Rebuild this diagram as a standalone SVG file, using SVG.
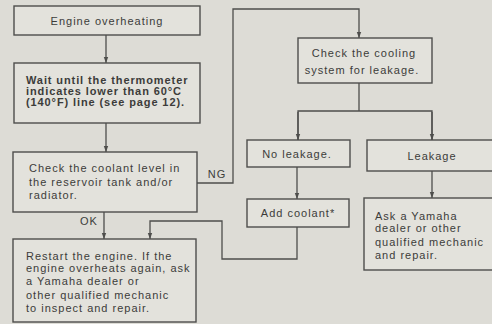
<svg xmlns="http://www.w3.org/2000/svg" width="492" height="324" viewBox="0 0 492 324">
<style>
.box{fill:#e3e2dc;stroke:#4e4e4c;stroke-width:1.4}
.ln{fill:none;stroke:#4e4e4c;stroke-width:1.3}
text{font-family:"Liberation Sans",Arial,sans-serif;font-size:11px;fill:#3c3c3a;letter-spacing:1px}
.c{text-anchor:middle}
.b{font-weight:bold;letter-spacing:0.9px}
</style>
<defs>
<marker id="ah" viewBox="0 0 6 6" refX="6" refY="3" markerWidth="6" markerHeight="6" markerUnits="userSpaceOnUse" orient="auto">
<path d="M0,0.8 L6,3 L0,5.2 Z" fill="#4e4e4c"/>
</marker>
</defs>
<rect width="492" height="324" fill="#dddcd6"/>
<g id="connectors">
<path class="ln" d="M106,35 V63" marker-end="url(#ah)"/>
<path class="ln" d="M106,123 V152" marker-end="url(#ah)"/>
<path class="ln" d="M104,212 V239" marker-end="url(#ah)"/>
<path class="ln" d="M197,183 H233 V9 H359 V38" marker-end="url(#ah)"/>
<path class="ln" d="M359,83 V111 M298,140 V111 H432 V140" />
<path class="ln" d="M298,112 V140" marker-end="url(#ah)"/>
<path class="ln" d="M432,112 V140" marker-end="url(#ah)"/>
<path class="ln" d="M297,167 V199" marker-end="url(#ah)"/>
<path class="ln" d="M432,171 V198" marker-end="url(#ah)"/>
<path class="ln" d="M297,227 V259 H222 V221 H150 V239" marker-end="url(#ah)"/>
<text x="217" y="178" class="c">NG</text>
<text x="89" y="225" class="c">OK</text>
</g>
<g id="n1">
<rect class="box" x="14" y="6" width="186" height="29"/>
<text x="107" y="25" class="c">Engine overheating</text>
</g>
<g id="n2">
<rect class="box" x="14" y="63" width="186" height="60"/>
<text class="b" x="26" y="84">Wait until the thermometer</text>
<text class="b" x="26" y="95">indicates lower than 60°C</text>
<text class="b" x="26" y="106">(140°F) line (see page 12).</text>
</g>
<g id="n3">
<rect class="box" x="13" y="152" width="184" height="60"/>
<text x="29" y="172">Check the coolant level in</text>
<text x="29" y="186">the reservoir tank and/or</text>
<text x="29" y="199">radiator.</text>
</g>
<g id="n4">
<rect class="box" x="13" y="239" width="183" height="83"/>
<text x="26" y="260">Restart the engine. If the</text>
<text x="26" y="272">engine overheats again, ask</text>
<text x="26" y="285">a Yamaha dealer or</text>
<text x="26" y="299">other qualified mechanic</text>
<text x="26" y="312">to inspect and repair.</text>
</g>
<g id="n5">
<rect class="box" x="298" y="38" width="134" height="45"/>
<text x="364" y="57" class="c">Check the cooling</text>
<text x="362" y="74" class="c">system for leakage.</text>
</g>
<g id="n6">
<rect class="box" x="247" y="140" width="103" height="27"/>
<text x="297" y="158" class="c">No leakage.</text>
</g>
<g id="n7">
<rect class="box" x="367" y="140" width="130" height="31"/>
<text x="432" y="160" class="c">Leakage</text>
</g>
<g id="n8">
<rect class="box" x="247" y="199" width="102" height="28"/>
<text x="298" y="217" class="c">Add coolant*</text>
</g>
<g id="n9">
<rect class="box" x="364" y="198" width="133" height="72"/>
<text x="375" y="220">Ask a Yamaha</text>
<text x="375" y="232">dealer or other</text>
<text x="375" y="246">qualified mechanic</text>
<text x="375" y="259">and repair.</text>
</g>
</svg>
